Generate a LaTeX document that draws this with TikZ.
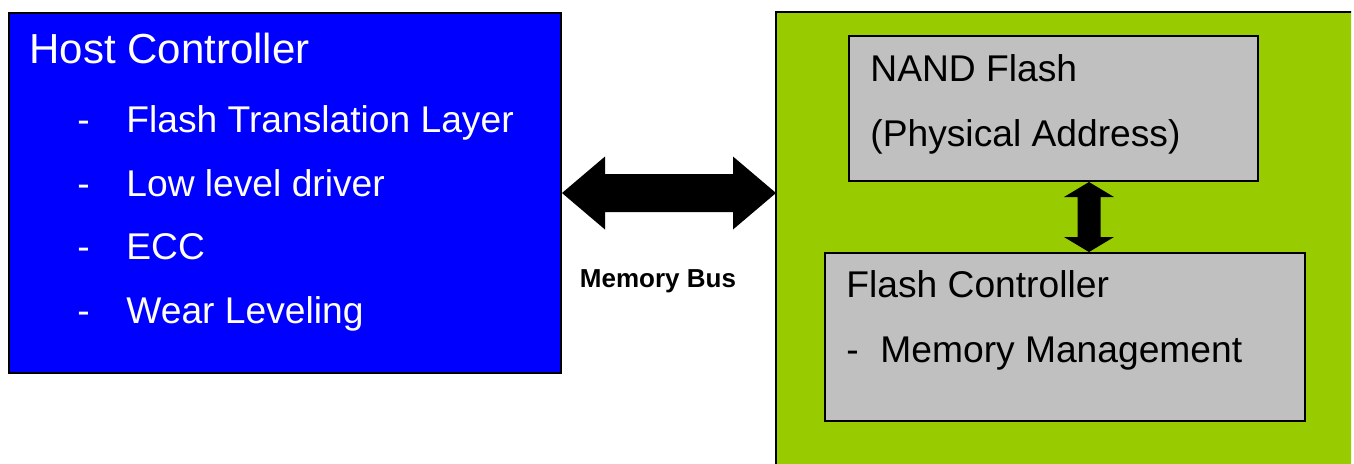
\documentclass[tikz,border=0pt]{standalone}
\usepackage{fontspec}
\setmainfont{Liberation Sans}
\usetikzlibrary{calc}
\definecolor{hostblue}{RGB}{0,0,255}
\definecolor{devgreen}{RGB}{153,204,0}
\definecolor{boxgray}{RGB}{192,192,192}
\tikzset{
  box/.style={draw=black, line width=1pt, inner sep=0pt, anchor=north west},
  bigtxt/.style={inner sep=0pt, anchor=base west, font=\fontsize{21pt}{25pt}\selectfont},
  txt/.style={inner sep=0pt, anchor=base west, font=\fontsize{18.6pt}{22pt}\selectfont},
  bustxt/.style={inner sep=0pt, anchor=base, font=\fontsize{13pt}{15pt}\selectfont\bfseries},
  fatarrow/.style={fill=black}
}
\begin{document}
\begin{tikzpicture}[x=0.5pt,y=-0.5pt]
\useasboundingbox (0,0) rectangle (1354,463);
\fill[white] (0,0) rectangle (1354,463);
% host controller
\node[box, fill=hostblue, minimum width=276pt, minimum height=180pt] (host) at (8,12) {};
% device (green), cut off at right and bottom
\begin{scope}
\clip (0,0) rectangle (1351,463);
\node[box, draw=none, fill=devgreen, minimum width=300pt, minimum height=240pt] (dev) at (776,12) {};
\draw[line width=1pt] (dev.south west) -- (dev.north west) -- (dev.north east);
\end{scope}
\node[box, fill=boxgray, minimum width=204.5pt, minimum height=72.5pt] (nand) at (848,35) {};
\node[box, fill=boxgray, minimum width=240pt, minimum height=84pt] (fc) at (824,252) {};
% texts left
\node[bigtxt, text=white] (hct) at (29,63) {Host Controller};
\node[txt, text=white] (d1) at (77,132) {-};
\node[txt, text=white] (t1) at (126,132) {Flash Translation Layer};
\node[txt, text=white] (d2) at (77,196) {-};
\node[txt, text=white] (t2) at (126,196) {Low level driver};
\node[txt, text=white] (d3) at (77,259) {-};
\node[txt, text=white] (t3) at (126,259) {ECC};
\node[txt, text=white] (d4) at (77,323) {-};
\node[txt, text=white] (t4) at (126,323) {Wear Leveling};
% texts right
\node[txt] (nt1) at (870,81) {NAND Flash};
\node[txt] (nt2) at (870,146) {(Physical Address)};
\node[txt] (ft1) at (846,297) {Flash Controller};
\node[txt] (fd) at (846,362) {-};
\node[txt] (ft2) at (880,362) {Memory Management};
\node[bustxt] (bus) at (658,287) {Memory Bus};
% memory bus arrow
\coordinate (L) at (host.east);
\coordinate (R) at (host.east -| dev.west);
\fill[fatarrow] (L) -- ($(L)+(43,-36.5)$) -- ($(L)+(43,-19)$) -- ($(R)+(-43,-19)$)
  -- ($(R)+(-43,-36.5)$) -- (R) -- ($(R)+(-43,36.5)$) -- ($(R)+(-43,19)$)
  -- ($(L)+(43,19)$) -- ($(L)+(43,36.5)$) -- cycle;
% internal arrow
\coordinate (T) at ([xshift=17.75pt]nand.south);
\coordinate (B) at (T |- fc.north);
\fill[fatarrow] (T) -- ($(T)+(25,15)$) -- ($(T)+(11.5,15)$) -- ($(B)+(11.5,-15)$)
  -- ($(B)+(25,-15)$) -- (B) -- ($(B)+(-25,-15)$) -- ($(B)+(-11.5,-15)$)
  -- ($(T)+(-11.5,15)$) -- ($(T)+(-25,15)$) -- cycle;
\end{tikzpicture}
\end{document}
